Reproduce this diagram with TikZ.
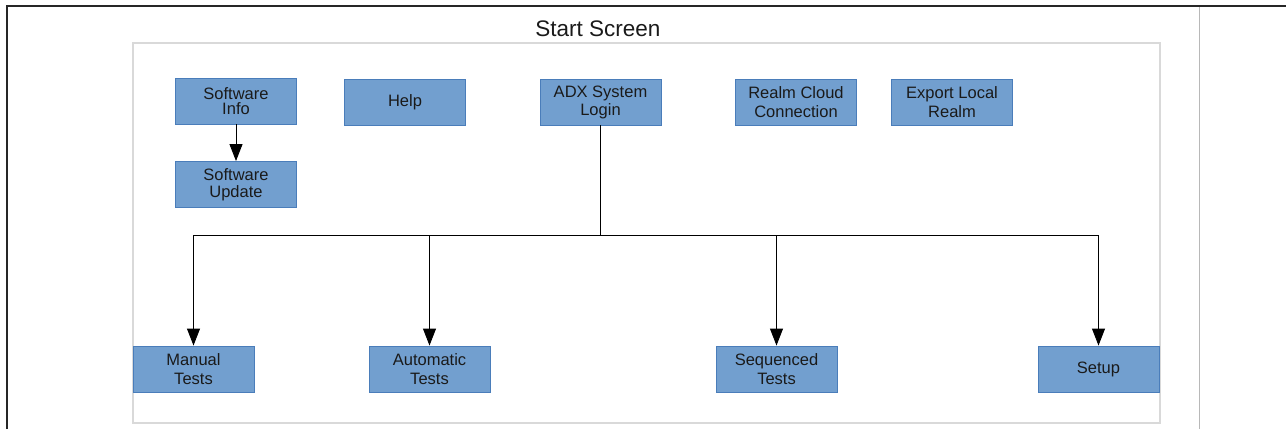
\documentclass[tikz,border=0pt]{standalone}
\usepackage{fontspec}
\setmainfont{Liberation Sans}
\usetikzlibrary{arrows.meta}
\definecolor{boxfill}{HTML}{729FCF}
\definecolor{boxline}{HTML}{4A7DBA}
\definecolor{txt}{HTML}{1A1A1A}
\begin{document}
\begin{tikzpicture}[x=1pt,y=-1pt,
  box/.style={draw=boxline,fill=boxfill,line width=0.9pt,minimum width=121pt,minimum height=46pt,
    inner sep=0pt,align=center,text=txt,font=\fontsize{16.5}{18.5}\selectfont},
  conn/.style={line width=0.9pt,black},
  arr/.style={conn,-{Triangle[length=17pt,width=13pt]}}]
\useasboundingbox (0,0) rectangle (1286,429);
% frame
\draw[line width=2pt,black!85] (7,429) -- (7,6) -- (1286,6);
\draw[line width=1pt,black!28] (1199,7) -- (1199,429);
\draw[line width=1.3pt,black!15] (133,43) rectangle (1160,423);
\node[anchor=base,font=\fontsize{22.5}{24}\selectfont,text=txt] (title) at (598,36.5) {Start Screen};
% top boxes
\node[box,font=\fontsize{16.5}{14.5}\selectfont] (swinfo) at (236,101) {Software\\Info};
\node[box,font=\fontsize{16.5}{17.5}\selectfont] (swupd) at (236,184.5) {Software\\Update};
\node[box] (help) at (405,102) {Help};
\node[box,font=\fontsize{16.5}{18}\selectfont] (adx) at (600.5,102) {ADX System\\Login};
\node[box] (realm) at (796,102) {Realm Cloud\\Connection};
\node[box] (export) at (952,102) {Export Local\\Realm};
% bottom boxes
\node[box] (manual) at (193.5,369) {Manual\\Tests};
\node[box] (auto) at (429.5,369) {Automatic\\Tests};
\node[box] (seq) at (776.5,369) {Sequenced\\Tests};
\node[box] (setup) at (1098.5,369) {Setup\vphantom{S}};
% connectors
\coordinate (bus) at (600.5,235);
\draw[arr] (swinfo) -- (swupd);
\draw[conn] (adx.south) -- (bus);
\draw[arr] (bus) -| (manual.north);
\draw[arr] (bus) -| (auto.north);
\draw[arr] (bus) -| (seq.north);
\draw[arr] (bus) -| (setup.north);
\end{tikzpicture}
\end{document}
